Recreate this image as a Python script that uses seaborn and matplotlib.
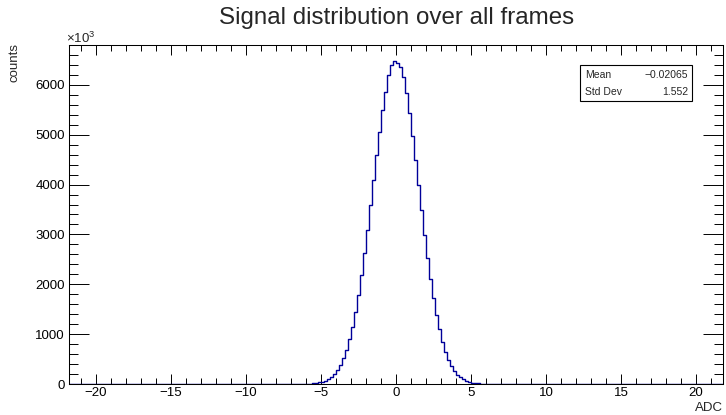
import numpy as np
import pandas as pd
import matplotlib
matplotlib.use("Agg")
import matplotlib.pyplot as plt
import seaborn as sns
from matplotlib.ticker import MultipleLocator
from matplotlib.patches import Rectangle

# ---- data (bin width 0.2 ADC, counts in units of 10^3) ----
hist_range = (-21.8, 21.8)
bin_width = 0.2
core_start = -6.2  # left edge of first non-empty bin listed below
core_counts = [
    3, 5, 8, 13, 20, 31, 46, 68, 99, 142,
    200, 280, 384, 518, 688, 896, 1148, 1446, 1793, 2184,
    2620, 3089, 3584, 4087, 4588, 5060, 5489, 5858, 6200, 6400,
    6470, 6445, 6350, 6150, 5830, 5430, 4980, 4490, 3986, 3484,
    2993, 2530, 2102, 1719, 1383, 1094, 851, 651, 489, 361,
    263, 188, 133, 92, 62, 42, 27, 18, 11, 7,
    4, 2,
]
stats_labels = ["Mean", "Std Dev"]
stats_values = ["\u22120.02065", "1.552"]
title = "Signal distribution over all frames"
xlabel = "ADC"
ylabel = "counts"

# ---- build full histogram over the axis range ----
n_bins = int(round((hist_range[1] - hist_range[0]) / bin_width))
edges = hist_range[0] + bin_width * np.arange(n_bins + 1)
centers = edges[:-1] + bin_width / 2
counts = np.zeros(n_bins)
i0 = int(round((core_start - hist_range[0]) / bin_width))
counts[i0:i0 + len(core_counts)] = core_counts
df = pd.DataFrame({"adc": centers, "w": counts})

sns.set_theme(style="white")
plt.rcParams["font.family"] = ["Liberation Sans", "DejaVu Sans"]
plt.rcParams["mathtext.fontset"] = "custom"
plt.rcParams["mathtext.rm"] = "Liberation Sans"
plt.rcParams["mathtext.it"] = "Liberation Sans"

W, H = 726, 415
fig = plt.figure(figsize=(W / 100, H / 100), dpi=100)
ax_l, ax_r, ax_t, ax_b = 69, 723, 45, 384
ax = fig.add_axes([ax_l / W, 1 - ax_b / H, (ax_r - ax_l) / W, (ax_b - ax_t) / H])

sns.histplot(data=df, x="adc", weights="w", bins=n_bins, binrange=hist_range,
             element="step", fill=False, color="#000099", linewidth=1.0, ax=ax)

ax.set_xlim(*hist_range)
ax.set_ylim(0, 6800)
ax.set_xlabel("")
ax.set_ylabel("")

for s in ax.spines.values():
    s.set_color("black")
    s.set_linewidth(0.75)

ax.xaxis.set_major_locator(MultipleLocator(5))
ax.xaxis.set_minor_locator(MultipleLocator(1))
ax.yaxis.set_major_locator(MultipleLocator(1000))
ax.yaxis.set_minor_locator(MultipleLocator(200))
ax.tick_params(axis="x", which="major", direction="in", length=7.2, width=0.7,
               top=True, bottom=True, labelsize=9.5, pad=1.8, colors="black")
ax.tick_params(axis="x", which="minor", direction="in", length=4.3, width=0.7,
               top=True, bottom=True, colors="black")
ax.tick_params(axis="y", which="major", direction="in", length=14.5, width=0.7,
               left=True, right=True, labelsize=9.5, pad=3, colors="black")
ax.tick_params(axis="y", which="minor", direction="in", length=6.5, width=0.7,
               left=True, right=True, colors="black")
ax.grid(False)

# titles and axis labels (ROOT style placement)
fig.text(397 / W, 1 - 18 / H, title, ha="center", va="center", fontsize=17.4)
fig.text(15 / W, 1 - 43 / H, ylabel, rotation=90, ha="center", va="top", fontsize=9.5)
fig.text(ax_r / W, 1 - 408 / H, xlabel, ha="right", va="center", fontsize=9.5)
fig.text(66 / W, 1 - 43 / H, r"$\times10^{3}$", ha="left", va="baseline", fontsize=9.5)

# stats box
bx0, bx1, by0, by1 = 580, 692, 65, 101
fig.patches.append(Rectangle((bx0 / W, 1 - by1 / H), (bx1 - bx0) / W, (by1 - by0) / H,
                             transform=fig.transFigure, facecolor="white",
                             edgecolor="black", linewidth=0.8, zorder=5))
rows_y = [74.5, 92]
for lab, val, yy in zip(stats_labels, stats_values, rows_y):
    fig.text(585 / W, 1 - yy / H, lab, ha="left", va="center", fontsize=7.5, zorder=6)
    fig.text(688 / W, 1 - yy / H, val, ha="right", va="center", fontsize=7.5, zorder=6)

fig.savefig("out.png", dpi=100)
